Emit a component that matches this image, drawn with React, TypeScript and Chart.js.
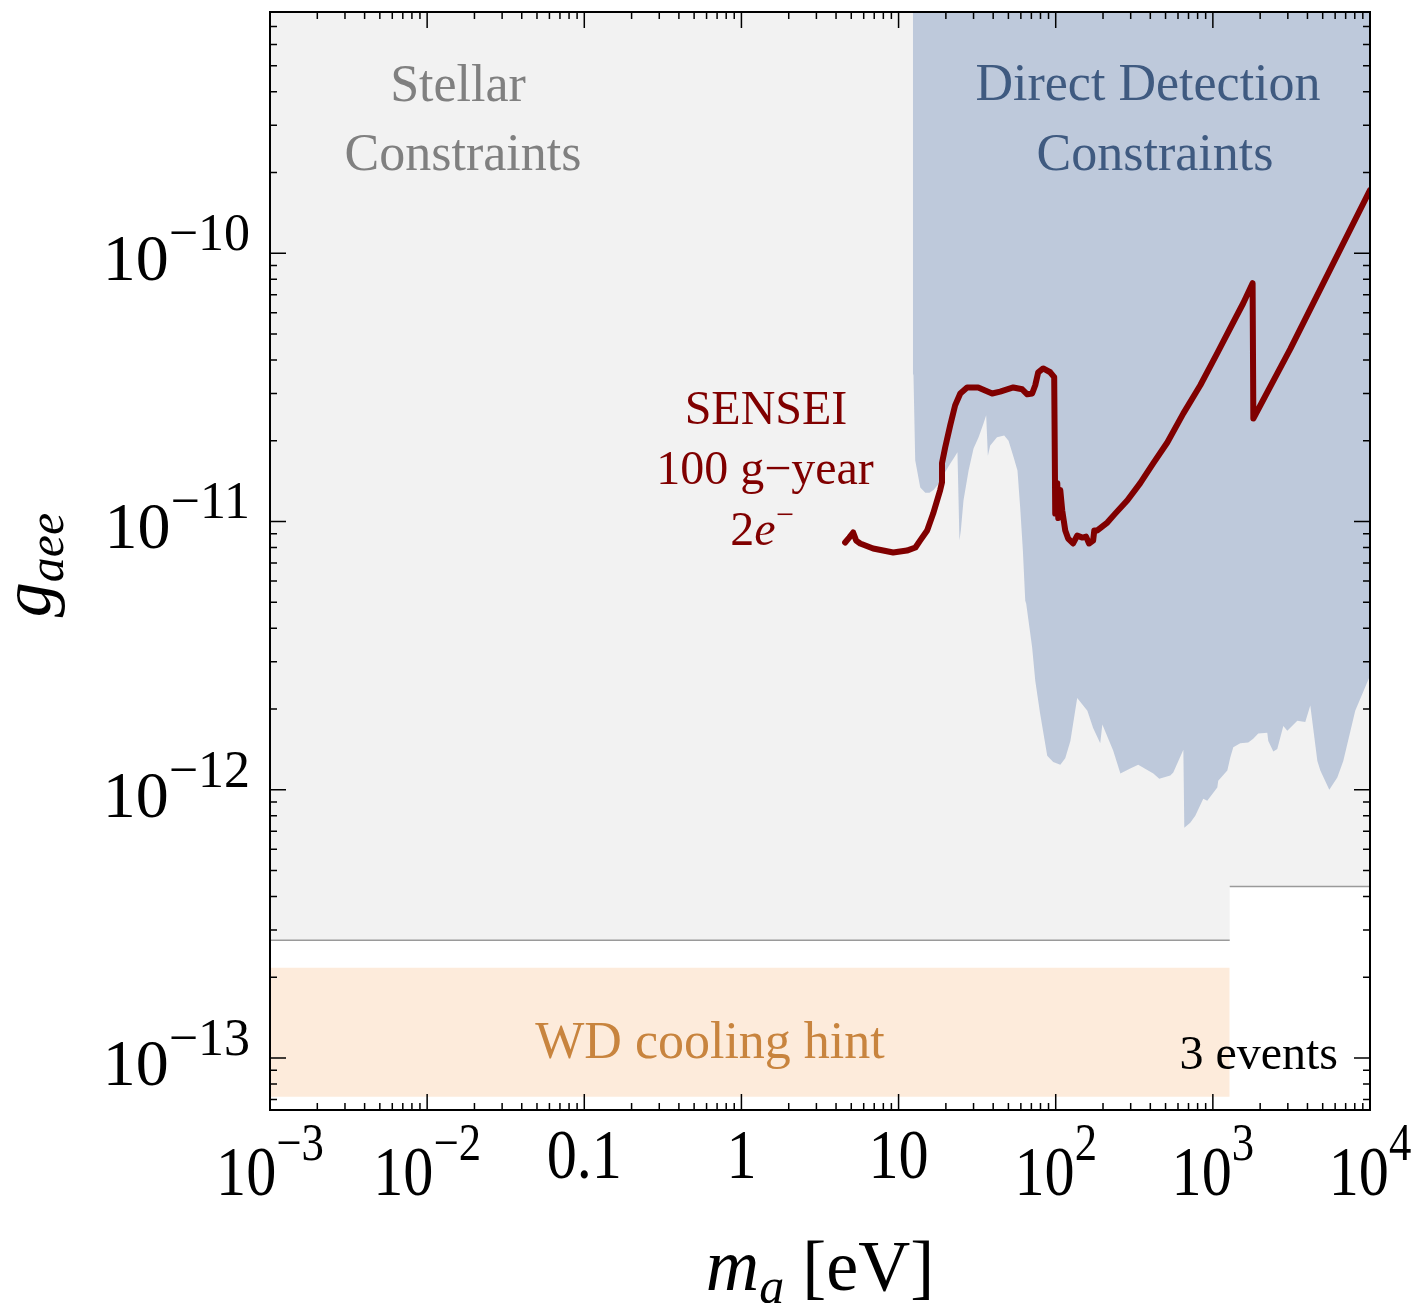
import React, { useEffect, useRef } from 'react';
import { Chart, registerables } from 'chart.js';

Chart.register(...registerables);

// ---------- axis ranges ----------
const X_MIN = 1e-3;
const X_MAX = 1e4;
const Y_MIN = 6.4e-14;
const Y_MAX = 7.93e-10;

// ---------- SENSEI 100 g-year 2e- projection ----------
const senseiMass = [
  4.57, 4.85, 5.14, 5.37, 5.7, 6.89, 9.24, 11.3, 12.8, 13.7, 15.2, 16.6, 18.4, 18.9, 18.9,
  19.8, 21.3, 22.9, 24.7, 27.3, 32.1, 39.4, 44.3, 53.7, 61.2, 65.9, 70.8, 74.1, 77.4, 83.2,
  92.3, 97.8, 99.3, 102.3, 103.8, 106.9, 110, 115, 120, 129, 137, 148, 156, 163, 173, 176,
  184, 213, 239, 286, 345, 418, 513, 649, 832, 1067, 1349, 1560, 1790, 1810, 3112, 10000,
];
const senseiG = [
  8.35e-12, 8.71e-12, 9.1e-12, 8.49e-12, 8.28e-12, 7.93e-12, 7.66e-12, 7.79e-12, 8.0e-12,
  8.49e-12, 9.26e-12, 1.07e-11, 1.31e-11, 1.4e-11, 1.65e-11, 1.89e-11, 2.28e-11, 2.71e-11,
  3.0e-11, 3.16e-11, 3.16e-11, 3.0e-11, 3.05e-11, 3.16e-11, 3.11e-11, 2.98e-11, 3.0e-11,
  3.22e-11, 3.6e-11, 3.72e-11, 3.6e-11, 3.45e-11, 1.07e-11, 1.39e-11, 1.03e-11, 1.31e-11,
  1.1e-11, 9.26e-12, 8.64e-12, 8.28e-12, 8.86e-12, 8.71e-12, 8.78e-12, 8.28e-12, 8.49e-12,
  9.26e-12, 9.26e-12, 9.91e-12, 1.07e-11, 1.2e-11, 1.39e-11, 1.65e-11, 1.97e-11, 2.53e-11,
  3.22e-11, 4.24e-11, 5.53e-11, 6.51e-11, 7.73e-11, 2.42e-11, 4.4e-11, 1.72e-10,
];

// ---------- Direct detection constraints (lower boundary, filled upward) ----------
const ddMass = [
  12.33, 12.44, 12.76, 13.74, 14.8, 15.74, 16.68, 17.95, 19.8, 21.3, 22.7, 23.7, 24.4, 24.9,
  25.9, 27.9, 30.0, 32.3, 34.7, 36.1, 37.0, 38.3, 42.3, 47.0, 50.1, 53.9, 57.1, 59.4, 61.8,
  64.0, 64.9, 70.8, 74.1, 79.6, 88.3, 96.4, 107, 115, 124, 137, 159, 173, 192, 198, 232, 258,
  298, 335, 418, 456, 536, 560, 649, 658, 718, 773, 869, 921, 1067, 1082, 1236, 1291, 1349,
  1494, 1680, 1807, 1945, 2220, 2253, 2425, 2570, 2808, 2978, 3446, 3873, 4169, 4624, 4830,
  5508, 6194, 6761, 8054, 10000,
];
const ddG = [
  3.56e-11, 3.51e-11, 1.69e-11, 1.34e-11, 1.28e-11, 1.28e-11, 1.31e-11, 1.38e-11, 1.53e-11,
  1.64e-11, 1.74e-11, 1.81e-11, 8.49e-12, 9.26e-12, 1.2e-11, 1.55e-11, 1.87e-11, 2.06e-11,
  2.32e-11, 2.49e-11, 1.76e-11, 1.92e-11, 2.06e-11, 2.09e-11, 2.0e-11, 1.74e-11, 1.55e-11,
  1.13e-11, 7.79e-12, 5.07e-12, 4.94e-12, 3.39e-12, 2.55e-12, 1.92e-12, 1.34e-12, 1.27e-12,
  1.24e-12, 1.31e-12, 1.52e-12, 2.2e-12, 1.97e-12, 1.7e-12, 1.49e-12, 1.75e-12, 1.4e-12,
  1.15e-12, 1.2e-12, 1.24e-12, 1.15e-12, 1.1e-12, 1.13e-12, 1.16e-12, 1.41e-12, 7.21e-13,
  7.53e-13, 8.0e-13, 9.25e-13, 9.1e-13, 1.02e-12, 1.08e-12, 1.18e-12, 1.32e-12, 1.44e-12,
  1.49e-12, 1.5e-12, 1.55e-12, 1.62e-12, 1.63e-12, 1.52e-12, 1.39e-12, 1.42e-12, 1.73e-12,
  1.66e-12, 1.81e-12, 1.79e-12, 2.06e-12, 1.28e-12, 1.18e-12, 1.0e-12, 1.11e-12, 1.28e-12,
  1.97e-12, 2.66e-12,
];

// ---------- Stellar constraints (filled upward, stepped lower edge) ----------
const stellarFillMass = [1e-3, 1280, 1280, 1e4];
const stellarFillG = [2.75e-13, 2.75e-13, 4.36e-13, 4.36e-13];
const stellarLowMass = [1e-3, 1280];
const stellarLowG = [2.75e-13, 2.75e-13];
const stellarHighMass = [1280, 1e4];
const stellarHighG = [4.36e-13, 4.36e-13];

// ---------- WD cooling hint band ----------
const wdMass = [1e-3, 1280];
const wdUpperG = [2.17e-13, 2.17e-13];
const wdLowerG = 7.17e-14;

// ---------- tick labels ----------
const xTickValues = [1e-3, 1e-2, 0.1, 1, 10, 100, 1000, 1e4];
const xTickBase = ['10', '10', '0.1', '1', '10', '10', '10', '10'];
const xTickExp = ['\u22123', '\u22122', '', '', '', '2', '3', '4'];
const yTickValues = [1e-10, 1e-11, 1e-12, 1e-13];
const yTickExp = ['\u221210', '\u221211', '\u221212', '\u221213'];

const SERIF = '"Liberation Serif", "DejaVu Serif", "Times New Roman", serif';

const pts = (xs: number[], ys: number[]) => xs.map((x, i) => ({ x, y: ys[i] }));

type Part = { t: string; font: string; dy?: number };

function drawRich(
  ctx: CanvasRenderingContext2D,
  parts: Part[],
  x: number,
  y: number,
  align: 'left' | 'center' | 'right',
  color: string,
  sx = 1
) {
  const widths = parts.map((p) => {
    ctx.font = p.font;
    return ctx.measureText(p.t).width;
  });
  const total = widths.reduce((a, b) => a + b, 0);
  ctx.save();
  ctx.translate(x, y);
  ctx.scale(sx, 1);
  ctx.fillStyle = color;
  ctx.textAlign = 'left';
  ctx.textBaseline = 'alphabetic';
  let cx = align === 'left' ? 0 : align === 'center' ? -total / 2 : -total;
  parts.forEach((p, i) => {
    ctx.font = p.font;
    ctx.fillText(p.t, cx, p.dy || 0);
    cx += widths[i];
  });
  ctx.restore();
}

const overlayPlugin = {
  id: 'overlay',
  afterDraw(chart: any) {
    const ctx: CanvasRenderingContext2D = chart.ctx;
    const { left, right, top, bottom } = chart.chartArea;
    const xs = chart.scales.x;
    const ys = chart.scales.y;

    ctx.save();
    // frame
    ctx.strokeStyle = '#000';
    ctx.lineWidth = 2;
    ctx.strokeRect(left, top, right - left, bottom - top);

    // ticks (inward, all four sides)
    ctx.lineWidth = 1.5;
    const MAJ = 16;
    const MIN = 7;
    ctx.beginPath();
    for (let d = -3; d <= 4; d++) {
      for (let k = 1; k <= 9; k++) {
        const v = k * Math.pow(10, d);
        if (v < X_MIN * 0.999 || v > X_MAX * 1.001) continue;
        const px = xs.getPixelForValue(v);
        const len = k === 1 ? MAJ : MIN;
        ctx.moveTo(px, bottom);
        ctx.lineTo(px, bottom - len);
        ctx.moveTo(px, top);
        ctx.lineTo(px, top + len);
      }
    }
    for (let d = -14; d <= -10; d++) {
      for (let k = 1; k <= 9; k++) {
        const v = k * Math.pow(10, d);
        if (v < Y_MIN || v > Y_MAX) continue;
        const py = ys.getPixelForValue(v);
        const len = k === 1 ? MAJ : MIN;
        ctx.moveTo(left, py);
        ctx.lineTo(left + len, py);
        ctx.moveTo(right, py);
        ctx.lineTo(right - len, py);
      }
    }
    ctx.stroke();

    // x tick labels
    xTickValues.forEach((v, i) => {
      const px = xs.getPixelForValue(v);
      if (xTickExp[i]) {
        drawRich(
          ctx,
          [
            { t: xTickBase[i], font: `70px ${SERIF}` },
            { t: xTickExp[i], font: `52px ${SERIF}`, dy: -35 },
          ],
          px,
          bottom + 85,
          'center',
          '#000',
          0.86
        );
      } else {
        drawRich(ctx, [{ t: xTickBase[i], font: `70px ${SERIF}` }], px, bottom + 68, 'center', '#000', 0.86);
      }
    });

    // y tick labels
    yTickValues.forEach((v, i) => {
      const py = ys.getPixelForValue(v);
      drawRich(
        ctx,
        [
          { t: '10', font: `66px ${SERIF}` },
          { t: yTickExp[i], font: `52px ${SERIF}`, dy: -30 },
        ],
        left - 20,
        py + 27,
        'right',
        '#000'
      );
    });

    // axis titles
    drawRich(
      ctx,
      [
        { t: 'm', font: `italic 74px ${SERIF}` },
        { t: 'a', font: `italic 50px ${SERIF}`, dy: 13 },
        { t: ' [eV]', font: `72px ${SERIF}` },
      ],
      (left + right) / 2,
      bottom + 180,
      'center',
      '#000'
    );
    ctx.save();
    ctx.translate(left - 220, 565);
    ctx.rotate(-Math.PI / 2);
    drawRich(
      ctx,
      [
        { t: 'g', font: `italic 70px ${SERIF}` },
        { t: 'aee', font: `italic 50px ${SERIF}`, dy: 13 },
      ],
      0,
      0,
      'center',
      '#000'
    );
    ctx.restore();

    // annotations
    const big = `52px ${SERIF}`;
    drawRich(ctx, [{ t: 'Stellar', font: big }], 458, 101, 'center', '#808080');
    drawRich(ctx, [{ t: 'Constraints', font: big }], 463, 170, 'center', '#808080');
    drawRich(ctx, [{ t: 'Direct Detection', font: big }], 1148, 100, 'center', '#3f5a80');
    drawRich(ctx, [{ t: 'Constraints', font: big }], 1155, 170, 'center', '#3f5a80');

    const red = '#800000';
    drawRich(ctx, [{ t: 'SENSEI', font: `48px ${SERIF}` }], 766, 424, 'center', red);
    drawRich(ctx, [{ t: '100 g\u2212year', font: `48px ${SERIF}` }], 765, 484, 'center', red);
    drawRich(
      ctx,
      [
        { t: '2', font: `48px ${SERIF}` },
        { t: 'e', font: `italic 48px ${SERIF}` },
        { t: '\u2212', font: `32px ${SERIF}`, dy: -20 },
      ],
      762,
      545,
      'center',
      red
    );

    drawRich(ctx, [{ t: 'WD cooling hint', font: big }], 710, 1058, 'center', '#c8843e');
    drawRich(ctx, [{ t: '3 events', font: `48px ${SERIF}` }], 1338, 1069, 'right', '#000');

    ctx.restore();
  },
};

export default function App() {
  const ref = useRef<HTMLCanvasElement | null>(null);

  useEffect(() => {
    if (!ref.current) return;
    const noLine = { borderColor: 'rgba(0,0,0,0)', borderWidth: 0, pointRadius: 0, tension: 0 };
    const chart = new Chart(ref.current, {
      type: 'line',
      data: {
        datasets: [
          {
            label: 'SENSEI 100 g-year 2e-',
            data: pts(senseiMass, senseiG),
            borderColor: '#800000',
            borderWidth: 6,
            pointRadius: 0,
            tension: 0,
            fill: false,
            borderJoinStyle: 'round',
            borderCapStyle: 'round',
            order: 0,
          },
          {
            label: 'Direct Detection',
            data: pts(ddMass, ddG),
            ...noLine,
            backgroundColor: 'rgb(190,201,219)',
            fill: 'end',
            order: 1,
          },
          {
            label: 'Stellar edge (low mass)',
            data: pts(stellarLowMass, stellarLowG),
            borderColor: '#9a9a9a',
            borderWidth: 1.5,
            pointRadius: 0,
            fill: false,
            order: 2,
          },
          {
            label: 'Stellar edge (high mass)',
            data: pts(stellarHighMass, stellarHighG),
            borderColor: '#9a9a9a',
            borderWidth: 1.5,
            pointRadius: 0,
            fill: false,
            order: 2,
          },
          {
            label: 'WD cooling hint',
            data: pts(wdMass, wdUpperG),
            ...noLine,
            backgroundColor: 'rgb(253,235,219)',
            fill: { value: wdLowerG },
            order: 3,
          },
          {
            label: 'Stellar constraints',
            data: pts(stellarFillMass, stellarFillG),
            ...noLine,
            backgroundColor: '#f2f2f2',
            fill: 'end',
            order: 4,
          },
        ],
      },
      options: {
        responsive: false,
        animation: false,
        devicePixelRatio: 1,
        layout: { padding: { left: 270, right: 55, top: 12, bottom: 193 } },
        plugins: {
          legend: { display: false },
          tooltip: { enabled: false },
          title: { display: false },
        },
        scales: {
          x: {
            type: 'logarithmic',
            min: X_MIN,
            max: X_MAX,
            ticks: { display: false },
            grid: { display: false },
            border: { display: false },
            afterFit: (s: any) => {
              s.height = 0;
            },
          },
          y: {
            type: 'logarithmic',
            min: Y_MIN,
            max: Y_MAX,
            ticks: { display: false },
            grid: { display: false },
            border: { display: false },
            afterFit: (s: any) => {
              s.width = 0;
            },
          },
        },
      } as any,
      plugins: [overlayPlugin],
    });
    return () => chart.destroy();
  }, []);

  return (
    <div style={{ position: 'absolute', left: 0, top: 0, width: 1425, height: 1303, background: '#fff' }}>
      <canvas ref={ref} width={1425} height={1303} style={{ width: 1425, height: 1303, display: 'block' }} />
    </div>
  );
}
